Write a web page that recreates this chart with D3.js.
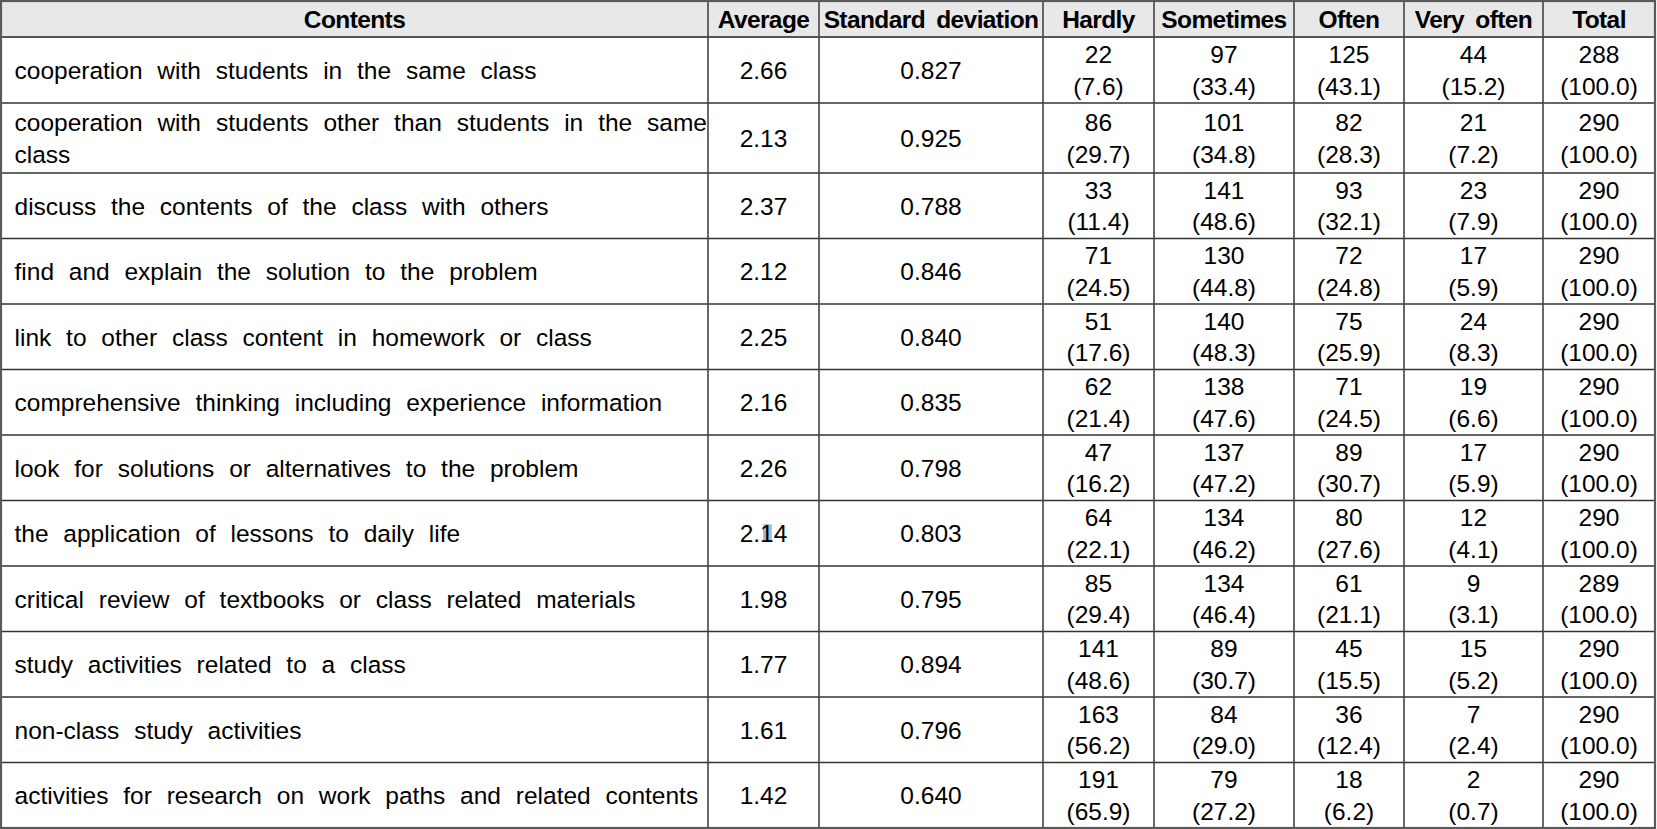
<!DOCTYPE html>
<html>
<head>
<meta charset="utf-8">
<script src="https://cdn.jsdelivr.net/npm/d3@7"></script>
<style>
html,body{margin:0;padding:0;background:#fff;}
svg{display:block;}
text{font-family:"Liberation Sans",Arial,sans-serif;fill:#000;}
</style>
</head>
<body>
<svg id="chart" width="1657" height="829"></svg>
<script>
// ---- data ----
const headers = ["Contents","Average","Standard deviation","Hardly","Sometimes","Often","Very often","Total"];
const contents = [
  "cooperation with students in the same class",
  "cooperation with students other than students in the same class",
  "discuss the contents of the class with others",
  "find and explain the solution to the problem",
  "link to other class content in homework or class",
  "comprehensive thinking including experience information",
  "look for solutions or alternatives to the problem",
  "the application of lessons to daily life",
  "critical review of textbooks or class related materials",
  "study activities related to a class",
  "non-class study activities",
  "activities for research on work paths and related contents"
];
const averages = [2.66,2.13,2.37,2.12,2.25,2.16,2.26,2.14,1.98,1.77,1.61,1.42];
const stdDevs  = [0.827,0.925,0.788,0.846,0.840,0.835,0.798,0.803,0.795,0.894,0.796,0.640];
const hardlyN     = [22,86,33,71,51,62,47,64,85,141,163,191];
const hardlyPct   = [7.6,29.7,11.4,24.5,17.6,21.4,16.2,22.1,29.4,48.6,56.2,65.9];
const sometimesN  = [97,101,141,130,140,138,137,134,134,89,84,79];
const sometimesPct= [33.4,34.8,48.6,44.8,48.3,47.6,47.2,46.2,46.4,30.7,29.0,27.2];
const oftenN      = [125,82,93,72,75,71,89,80,61,45,36,18];
const oftenPct    = [43.1,28.3,32.1,24.8,25.9,24.5,30.7,27.6,21.1,15.5,12.4,6.2];
const veryOftenN  = [44,21,23,17,24,19,17,12,9,15,7,2];
const veryOftenPct= [15.2,7.2,7.9,5.9,8.3,6.6,5.9,4.1,3.1,5.2,2.4,0.7];
const totalN      = [288,290,290,290,290,290,290,290,289,290,290,290];
const totalPct    = [100.0,100.0,100.0,100.0,100.0,100.0,100.0,100.0,100.0,100.0,100.0,100.0];

// ---- layout ----
const colEdges = [1,708,819,1043,1154,1294,1404,1543,1655];
const headerH = 36, topY = 1;
const rowHeights = contents.map((d,i)=> i===1 ? 70 : (i===0 ? 66 : 65.5));
const FS = 24.5, LH = 31.7;

const svg = d3.select("#chart");
const xEdge = d3.scaleOrdinal().domain(d3.range(colEdges.length)).range(colEdges);
const rowTops = [];
let acc = topY + headerH;
rowHeights.forEach(h=>{rowTops.push(acc); acc+=h;});
const bottomY = acc;
const yRow = d3.scaleOrdinal().domain(d3.range(contents.length)).range(rowTops);

const f1 = d3.format(".1f"), f2 = d3.format(".2f"), f3 = d3.format(".3f");

// header background
svg.append("rect").attr("x",colEdges[0]).attr("y",topY)
  .attr("width",colEdges[8]-colEdges[0]).attr("height",headerH).attr("fill","#e8e8e8");

// highlight artifact layer
const hlLayer = svg.append("g");

// header text
svg.append("g").selectAll("text").data(headers).join("text")
  .attr("x",(d,i)=>(xEdge(i)+xEdge(i+1))/2)
  .attr("y",topY+headerH/2)
  .attr("dy","0.36em")
  .attr("text-anchor","middle")
  .attr("font-size",FS).attr("font-weight","bold")
  .attr("letter-spacing",-0.6).attr("word-spacing",5)
  .text(d=>d);

// contents column
const cg = svg.append("g");
function measure(s, ws){
  const tt = cg.append("text").attr("font-size",FS).attr("word-spacing",ws).text(s);
  const w = tt.node().getComputedTextLength(); tt.remove(); return w;
}
contents.forEach((t,i)=>{
  const cy = yRow(i)+rowHeights[i]/2;
  const left = 14.5, right = 707;
  const w = measure(t, 8);
  if (w <= right-left){
    cg.append("text").attr("x",left).attr("y",cy).attr("dy","0.36em")
      .attr("font-size",FS).attr("word-spacing",8).text(t);
  } else {
    const words = t.split(" ");
    let line1 = [], rest = [];
    for (let k=0;k<words.length;k++){
      const trial = line1.concat(words[k]).join(" ");
      if (rest.length===0 && measure(trial, 2) <= right-left) line1.push(words[k]); else rest.push(words[k]);
    }
    const s1 = line1.join(" ");
    const nat = measure(s1, 0);
    const ws = (right-left-nat)/(line1.length-1);
    cg.append("text").attr("x",left).attr("y",cy-LH/2).attr("dy","0.36em")
      .attr("font-size",FS).attr("word-spacing",ws).text(s1);
    cg.append("text").attr("x",left).attr("y",cy+LH/2).attr("dy","0.36em")
      .attr("font-size",FS).attr("word-spacing",8).text(rest.join(" "));
  }
});

// single-value columns
function singleCol(ci, vals, fmt){
  const g = svg.append("g");
  g.selectAll("text").data(vals).join("text")
    .attr("x",(xEdge(ci)+xEdge(ci+1))/2)
    .attr("y",(d,i)=>yRow(i)+rowHeights[i]/2)
    .attr("dy","0.36em").attr("text-anchor","middle")
    .attr("font-size",FS).text(d=>fmt(d));
  return g;
}
const avgG = singleCol(1, averages, f2);
singleCol(2, stdDevs, f3);

// count+percent columns
function pairCol(ci, ns, ps){
  const g = svg.append("g");
  const cx = (xEdge(ci)+xEdge(ci+1))/2;
  g.selectAll("text.n").data(ns).join("text").attr("class","n")
    .attr("x",cx).attr("y",(d,i)=>yRow(i)+rowHeights[i]/2-LH/2)
    .attr("dy","0.36em").attr("text-anchor","middle").attr("font-size",FS).text(d=>d);
  g.selectAll("text.p").data(ps).join("text").attr("class","p")
    .attr("x",cx).attr("y",(d,i)=>yRow(i)+rowHeights[i]/2+LH/2)
    .attr("dy","0.36em").attr("text-anchor","middle").attr("font-size",FS).text(d=>"("+f1(d)+")");
}
pairCol(3, hardlyN, hardlyPct);
pairCol(4, sometimesN, sometimesPct);
pairCol(5, oftenN, oftenPct);
pairCol(6, veryOftenN, veryOftenPct);
pairCol(7, totalN, totalPct);

// selection highlight behind "1" of 2.14 (row 8)
const hlNode = avgG.selectAll("text").nodes()[7];
const fullW = hlNode.getComputedTextLength();
const off = hlNode.getSubStringLength(0,2);
const cw = hlNode.getSubStringLength(2,1);
const startX = (xEdge(1)+xEdge(2))/2 - fullW/2;
const cy8 = yRow(7)+rowHeights[7]/2;
hlLayer.append("rect").attr("x",startX+off+3).attr("y",cy8-9).attr("width",cw-5).attr("height",17)
  .attr("fill","#9dbbd6");

// grid lines
const lines = svg.append("g");
const hYs = [topY+headerH].concat(rowTops.slice(1));
lines.selectAll("line.h").data(hYs).join("line").attr("class","h")
  .attr("x1",colEdges[0]).attr("x2",colEdges[8]).attr("y1",d=>d).attr("y2",d=>d)
  .attr("stroke",(d,i)=> i===0 ? "#555" : "#333").attr("stroke-width",(d,i)=> i===0 ? 2 : 1.4);
lines.selectAll("line.v").data(colEdges.slice(1,8)).join("line").attr("class","v")
  .attr("x1",d=>d).attr("x2",d=>d).attr("y1",topY).attr("y2",bottomY)
  .attr("stroke","#444").attr("stroke-width",1.6);
lines.append("rect").attr("x",colEdges[0]).attr("y",topY)
  .attr("width",colEdges[8]-colEdges[0]).attr("height",bottomY-topY)
  .attr("fill","none").attr("stroke","#5a5a5a").attr("stroke-width",2.2);
</script>
</body>
</html>
